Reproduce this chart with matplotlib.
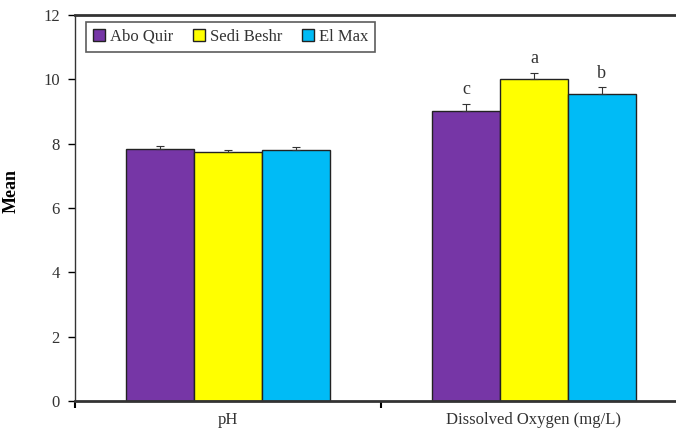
import matplotlib.pyplot as plt
import numpy as np

categories = ['pH', 'Dissolved Oxygen (mg/L)']
sites = ['Abo Quir', 'Sedi Beshr', 'El Max']
means = {
    'Abo Quir': [7.83, 9.02],
    'Sedi Beshr': [7.75, 10.0],
    'El Max': [7.81, 9.55],
}
errors = {
    'Abo Quir': [0.11, 0.22],
    'Sedi Beshr': [0.05, 0.20],
    'El Max': [0.10, 0.20],
}
letters = {
    'Abo Quir': ['', 'c'],
    'Sedi Beshr': ['', 'a'],
    'El Max': ['', 'b'],
}
colors = ['#7636A6', '#FFFF00', '#00BBF6']

plt.rcParams['font.family'] = ['Liberation Serif', 'DejaVu Serif']

fig = plt.figure(figsize=(6.76, 4.32), dpi=100)
# right edge of the plot is cut off in the original
ax = fig.add_axes([75 / 676, 31 / 432, 612 / 676, 386 / 432])

x = np.arange(len(categories))
width = 0.222
for i, site in enumerate(sites):
    pos = x + (i - 1) * width
    ax.bar(pos, means[site], width, color=colors[i], edgecolor='#222222',
           linewidth=1.0, label=site, zorder=2)
    ax.errorbar(pos, means[site], yerr=[np.zeros(len(x)), errors[site]],
                fmt='none', ecolor='#333333', elinewidth=0.8, capsize=3,
                capthick=0.8, zorder=3)
    for p, m, e, t in zip(pos, means[site], errors[site], letters[site]):
        if t:
            ax.text(p, m + e + 0.18, t, ha='center', va='bottom',
                    fontsize=13, color='#333333')

ax.set_xlim(-0.5, 1.5)
ax.set_ylim(0, 12)
ax.set_yticks(range(0, 13, 2))
ax.set_xticks([-0.5, 0.5, 1.5])
ax.set_xticklabels([])
ax.set_xticks(x, minor=True)
ax.set_xticklabels(categories, minor=True, fontsize=12, color='#333333')
ax.tick_params(axis='x', which='minor', length=0, pad=8)
ax.tick_params(axis='x', which='major', direction='out', length=5, width=1.5)
ax.tick_params(axis='y', direction='out', length=5, width=1,
               labelsize=12, labelcolor='#333333', pad=6)

for s in ax.spines.values():
    s.set_color('#333333')
ax.spines['left'].set_linewidth(1.0)
ax.spines['bottom'].set_linewidth(2.0)
ax.spines['top'].set_linewidth(2.0)
ax.spines['right'].set_visible(False)

ax.set_ylabel('Mean', fontsize=13, fontweight='bold')
ax.yaxis.set_label_coords(-0.09, 0.544)

leg = ax.legend(loc='upper left', bbox_to_anchor=(0.018, 0.982), ncol=3,
                fontsize=12, frameon=True, fancybox=False, handlelength=0.7,
                handleheight=0.7, handletextpad=0.3, columnspacing=1.2,
                borderpad=0.42, borderaxespad=0, labelcolor='#333333')
leg.get_frame().set_edgecolor('#333333')
leg.get_frame().set_linewidth(1.2)

fig.savefig('out.png', dpi=100)
